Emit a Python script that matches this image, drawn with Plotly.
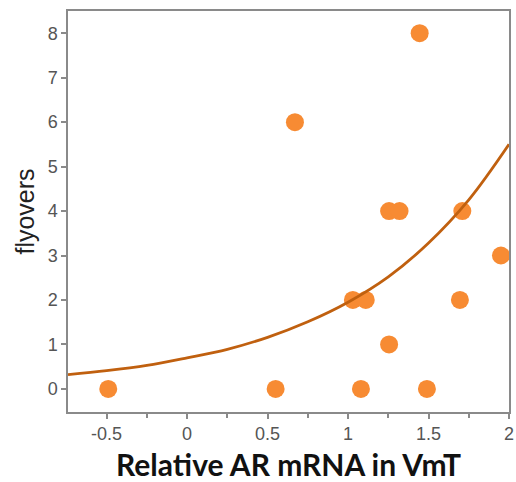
import plotly.graph_objects as go

# observed points
ar_mrna = [-0.49, 0.55, 1.08, 1.49, 1.255, 1.03, 1.11, 1.695, 1.95, 1.255, 1.32, 1.71, 0.67, 1.445]
flyovers = [0, 0, 0, 0, 1, 2, 2, 2, 3, 4, 4, 4, 6, 8]

# fitted curve
curve_x = [-0.74, -0.5, -0.25, 0.0, 0.25, 0.5, 0.75, 1.0, 1.25, 1.5, 1.75, 2.0]
curve_y = [0.32, 0.41, 0.53, 0.70, 0.89, 1.16, 1.51, 1.95, 2.52, 3.28, 4.25, 5.50]

x_tickvals = [-0.5, 0, 0.5, 1, 1.5, 2]
x_ticktext = ["-0.5", "0", "0.5", "1", "1.5", "2"]
y_tickvals = [0, 1, 2, 3, 4, 5, 6, 7, 8]

fig = go.Figure()
fig.add_trace(go.Scatter(
    x=ar_mrna, y=flyovers, mode="markers",
    marker=dict(size=18, color="#F78B33", line=dict(width=0)),
    showlegend=False,
))
fig.add_trace(go.Scatter(
    x=curve_x, y=curve_y, mode="lines", line_shape="spline",
    line=dict(color="#C0600F", width=2.8),
    showlegend=False,
))

axis_col = "#8a8a8a"
fig.update_layout(
    width=516, height=482,
    margin=dict(l=68, r=7, t=11, b=70, autoexpand=False),
    paper_bgcolor="white", plot_bgcolor="white",
    font=dict(family="Liberation Sans", color="#555555", size=18),
    xaxis=dict(
        range=[-0.74, 2.0], tickvals=x_tickvals, ticktext=x_ticktext,
        automargin=False,
        showgrid=False, zeroline=False,
        showline=True, linecolor=axis_col, linewidth=1.5, mirror=True,
        ticks="outside", ticklen=5, tickwidth=1.5, tickcolor=axis_col,
        minor=dict(dtick=0.25, ticks="outside", ticklen=4, tickwidth=1.5, tickcolor=axis_col),
        tickfont=dict(family="Liberation Sans", size=18, color="#555555"),
        title=dict(text="<b>Relative AR mRNA in VmT</b>",
                   font=dict(family="Lato", size=30, color="#111111"),
                   standoff=16),
    ),
    yaxis=dict(
        range=[-0.52, 8.5], tickvals=y_tickvals,
        automargin=False,
        showgrid=False, zeroline=False,
        showline=True, linecolor=axis_col, linewidth=1.5, mirror=True,
        ticks="outside", ticklen=5, tickwidth=1.5, tickcolor=axis_col,
        tickfont=dict(family="Liberation Sans", size=18, color="#555555"),
        title=dict(text="flyovers",
                   font=dict(family="Liberation Sans", size=25, color="#222222"),
                   standoff=6),
    ),
)

fig.write_html("out.html")
